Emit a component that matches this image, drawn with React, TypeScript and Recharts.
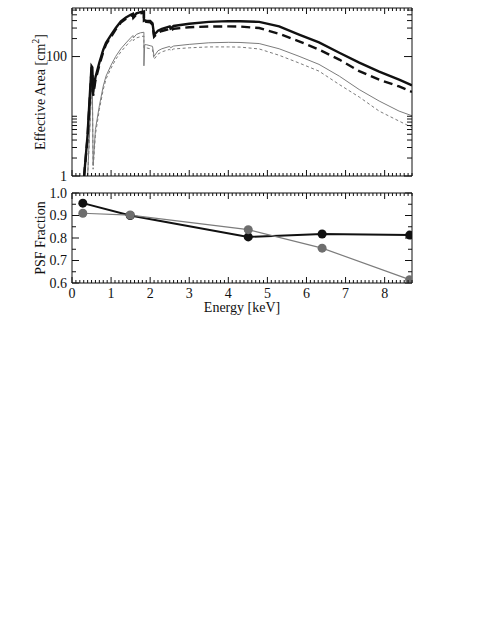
import React from "react";
import { LineChart, Line, XAxis, YAxis, Label } from "recharts";

// ── Effective area (upper panel), cm^2 vs keV ──
const ENERGY = [
  0.31, 0.4, 0.42, 0.46, 0.5, 0.52, 0.54, 0.6, 0.7, 0.8, 0.87, 1.0, 1.12, 1.25, 1.38,
  1.5, 1.56, 1.57, 1.65, 1.75, 1.84, 1.84, 1.86, 1.9, 2.0, 2.06, 2.1, 2.2, 2.3, 2.5,
  2.52, 2.6, 3.0, 3.5, 4.0, 4.3, 4.79, 5.3, 5.81, 6.32, 6.84, 7.35, 7.86, 8.37, 8.7,
];
const AREA_BLACK_SOLID = [
  1, 5, 9, 25, 69, 66, 25, 45, 79, 130, 170, 230, 300, 390, 450,
  500, 520, 470, 530, 555, 570, 400, 405, 400, 395, 360, 230, 270, 290, 320,
  295, 325, 355, 380, 392, 390, 380, 320, 233, 173, 116, 79, 56, 41, 33,
];
const AREA_BLACK_DASHED = [
  1, 4.5, 8, 22, 60, 58, 22, 40, 72, 120, 160, 215, 285, 370, 430,
  480, 495, 445, 505, 530, 540, 380, 385, 380, 375, 340, 215, 250, 268, 290,
  270, 292, 310, 318, 320, 318, 300, 240, 180, 131, 89, 57, 41, 31.6, 25.5,
];
const AREA_GREY_SOLID = [
  null, 1, 2, 8, 30, 40, 1.5, 6, 15, 32, 47, 72, 101, 135, 169,
  205, 225, 205, 235, 250, 255, 70, 158, 158, 152, 148, 101, 125, 135, 148,
  140, 150, 160, 170, 173, 172, 165, 135, 101, 74, 47, 28, 18, 12.2, 10.2,
];
const AREA_GREY_DASHED = [
  null, 1, 1.8, 7, 26, 35, 1.3, 5, 13, 28, 42, 64, 90, 120, 150,
  185, 200, 185, 205, 215, 220, 140, 140, 140, 135, 130, 90, 110, 120, 132,
  124, 134, 140, 145, 145, 144, 134, 105, 78, 57, 34, 21, 12.2, 8.3, 6.5,
];

// ── PSF fraction (lower panel) ──
const PSF_ENERGY = [0.277, 1.49, 4.51, 6.4, 8.64];
const PSF_BLACK = [0.955, 0.9, 0.805, 0.818, 0.813];
const PSF_GREY = [0.91, 0.902, 0.837, 0.755, 0.615];

// ── axis ticks ──
const AREA_LABELS = [1, 100];
const AREA_TICKS = [1, 2, 3, 4, 5, 6, 7, 8, 9, 10, 100, 200, 300, 400, 500, 600];
const PSF_LABELS = [0.6, 0.7, 0.8, 0.9, 1.0];
const PSF_TICKS = Array.from({ length: 9 }, (_, i) => +(0.6 + i * 0.05).toFixed(2));
const ENERGY_LABELS = [0, 1, 2, 3, 4, 5, 6, 7, 8];
const ENERGY_TICKS = Array.from({ length: 88 }, (_, i) => +(i * 0.1).toFixed(1));

const areaData = ENERGY.map((e, i) => ({
  e,
  bs: AREA_BLACK_SOLID[i],
  bd: AREA_BLACK_DASHED[i],
  gs: AREA_GREY_SOLID[i],
  gd: AREA_GREY_DASHED[i],
}));
const psfData = PSF_ENERGY.map((e, i) => ({ e, b: PSF_BLACK[i], g: PSF_GREY[i] }));

const FONT = "'Liberation Serif', 'DejaVu Serif', serif";
const INK = "#111";
const GREY = "#7c7c7c";
const E_DOMAIN: [number, number] = [0, 8.7];

type Side = "left" | "right" | "top" | "bottom";

// Inward-pointing frame ticks (tickSize=0 puts x/y on the axis line).
function FrameTick(props: any) {
  const { x, y, payload, side, labels, majorLen, minorLen, fmt } = props;
  const v = payload.value as number;
  const isLabel = labels.some((l: number) => Math.abs(l - v) < 1e-6);
  const L = isLabel ? majorLen : minorLen;
  const s = side as Side;
  let line;
  if (s === "left") line = <line x1={x} x2={x + L} y1={y} y2={y} stroke={INK} />;
  else if (s === "right") line = <line x1={x} x2={x - L} y1={y} y2={y} stroke={INK} />;
  else if (s === "bottom") line = <line x1={x} x2={x} y1={y} y2={y - L} stroke={INK} />;
  else line = <line x1={x} x2={x} y1={y} y2={y + L} stroke={INK} />;
  return (
    <g>
      {line}
      {isLabel && fmt && s === "left" && (
        <text x={x - 5} y={y} dy="0.35em" textAnchor="end" fontSize={14} fontFamily={FONT} fill={INK}>
          {fmt(v)}
        </text>
      )}
      {isLabel && fmt && s === "bottom" && (
        <text x={x} y={y + 4} dy="0.75em" textAnchor="middle" fontSize={14} fontFamily={FONT} fill={INK}>
          {fmt(v)}
        </text>
      )}
    </g>
  );
}

const tick = (side: Side, labels: number[], majorLen: number, minorLen: number, fmt?: (v: number) => string) =>
  (p: any) => <FrameTick {...p} side={side} labels={labels} majorLen={majorLen} minorLen={minorLen} fmt={fmt} />;

const axisLine = { stroke: INK, strokeWidth: 1 };

function AreaTitle(props: any) {
  const vb = props.viewBox;
  const cx = vb.x + 45;
  const cy = vb.y + vb.height / 2;
  return (
    <text
      x={cx}
      y={cy}
      transform={`rotate(-90 ${cx} ${cy})`}
      textAnchor="middle"
      fontSize={14}
      fontFamily={FONT}
      fill={INK}
    >
      Effective Area [cm
      <tspan dy={-6} fontSize={10}>2</tspan>
      <tspan dy={6}>]</tspan>
    </text>
  );
}

function PsfTitle(props: any) {
  const vb = props.viewBox;
  const cx = vb.x + 45;
  const cy = vb.y + vb.height / 2;
  return (
    <text x={cx} y={cy} transform={`rotate(-90 ${cx} ${cy})`} textAnchor="middle" fontSize={14} fontFamily={FONT} fill={INK}>
      PSF Fraction
    </text>
  );
}

function EnergyTitle(props: any) {
  const vb = props.viewBox;
  return (
    <text x={vb.x + vb.width / 2} y={vb.y + 29} textAnchor="middle" fontSize={14} fontFamily={FONT} fill={INK}>
      Energy [keV]
    </text>
  );
}

const xAxisCommon = {
  dataKey: "e",
  type: "number" as const,
  domain: E_DOMAIN,
  allowDataOverflow: true,
  ticks: ENERGY_TICKS,
  interval: 0 as const,
  height: 1,
  tickSize: 0,
  tickMargin: 0,
  tickLine: false,
  axisLine,
};

export default function App() {
  return (
    <div style={{ position: "absolute", left: 0, top: 0, width: 485, height: 627, background: "#fff" }}>
      {/* Upper panel: effective area, log scale */}
      <div style={{ position: "absolute", left: 0, top: 0 }}>
        <LineChart width={485} height={190} data={areaData} margin={{ top: 7, right: 72, bottom: 13, left: 0 }}>
          <XAxis {...xAxisCommon} tick={tick("bottom", ENERGY_LABELS, 6, 3)} />
          <XAxis xAxisId="top" orientation="top" {...xAxisCommon} tick={tick("top", ENERGY_LABELS, 6, 3)} />
          <YAxis
            type="number"
            scale="log"
            domain={[1, 650]}
            allowDataOverflow
            ticks={AREA_TICKS}
            interval={0}
            width={72}
            tickSize={0}
            tickMargin={0}
            tickLine={false}
            axisLine={axisLine}
            tick={tick("left", AREA_LABELS, 8, 5, (v) => String(v))}
          >
            <Label content={<AreaTitle />} />
          </YAxis>
          <YAxis
            yAxisId="right"
            orientation="right"
            type="number"
            scale="log"
            domain={[1, 650]}
            allowDataOverflow
            ticks={AREA_TICKS}
            interval={0}
            width={1}
            tickSize={0}
            tickMargin={0}
            tickLine={false}
            axisLine={axisLine}
            tick={tick("right", AREA_LABELS, 8, 5)}
          />
          {/* grey curves bound to the mirrored (top/right) axes; same domains */}
          <Line xAxisId="top" yAxisId="right" dataKey="gd" type="linear" stroke={GREY} strokeWidth={1} strokeDasharray="3 2.5" dot={false} isAnimationActive={false} />
          <Line xAxisId="top" yAxisId="right" dataKey="gs" type="linear" stroke={GREY} strokeWidth={1} dot={false} isAnimationActive={false} />
          <Line dataKey="bd" type="linear" stroke={INK} strokeWidth={2.4} strokeDasharray="9 5" dot={false} isAnimationActive={false} />
          <Line dataKey="bs" type="linear" stroke={INK} strokeWidth={2.4} dot={false} isAnimationActive={false} />
        </LineChart>
      </div>

      {/* Lower panel: PSF fraction */}
      <div style={{ position: "absolute", left: 0, top: 180 }}>
        <LineChart width={485} height={150} data={psfData} margin={{ top: 12, right: 72, bottom: 46, left: 0 }}>
          <XAxis {...xAxisCommon} tick={tick("bottom", ENERGY_LABELS, 6, 3, (v) => String(v))}>
            <Label content={<EnergyTitle />} />
          </XAxis>
          <XAxis xAxisId="top" orientation="top" {...xAxisCommon} tick={tick("top", ENERGY_LABELS, 6, 3)} />
          <YAxis
            type="number"
            domain={[0.6, 1.0]}
            allowDataOverflow
            ticks={PSF_TICKS}
            interval={0}
            width={72}
            tickSize={0}
            tickMargin={0}
            tickLine={false}
            axisLine={axisLine}
            tick={tick("left", PSF_LABELS, 7, 4, (v) => v.toFixed(1))}
          >
            <Label content={<PsfTitle />} />
          </YAxis>
          <YAxis
            yAxisId="right"
            orientation="right"
            type="number"
            domain={[0.6, 1.0]}
            allowDataOverflow
            ticks={PSF_TICKS}
            interval={0}
            width={1}
            tickSize={0}
            tickMargin={0}
            tickLine={false}
            axisLine={axisLine}
            tick={tick("right", PSF_LABELS, 7, 4)}
          />
          <Line
            dataKey="b"
            type="linear"
            stroke={INK}
            strokeWidth={2}
            dot={{ r: 4.5, fill: INK, stroke: "none" }}
            isAnimationActive={false}
          />
          <Line
            xAxisId="top"
            yAxisId="right"
            dataKey="g"
            type="linear"
            stroke={GREY}
            strokeWidth={1.2}
            dot={{ r: 4.5, fill: "#6e6e6e", stroke: "none" }}
            isAnimationActive={false}
          />
        </LineChart>
      </div>
    </div>
  );
}
